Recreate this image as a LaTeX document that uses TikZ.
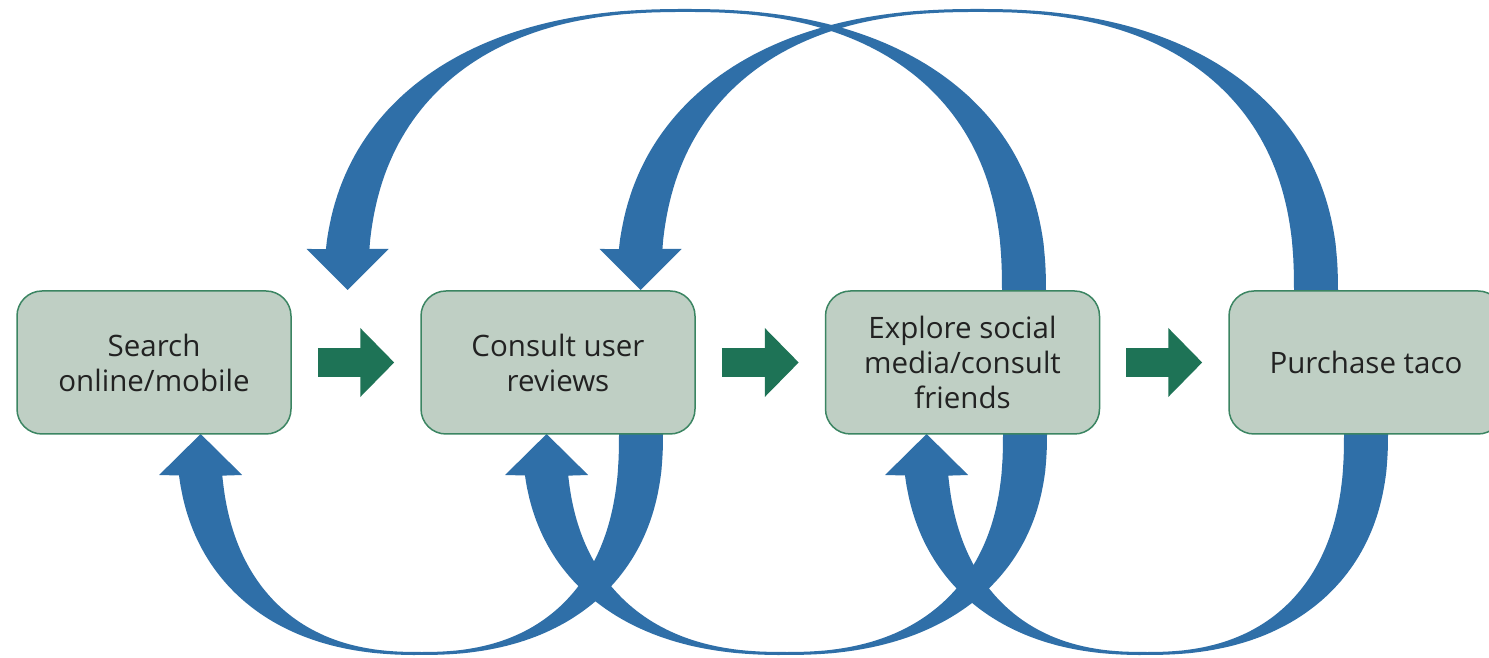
\documentclass[tikz,border=0pt]{standalone}
\usepackage{fontspec}
\setmainfont{Open Sans}
\usetikzlibrary{arrows.meta}
\definecolor{arcblue}{RGB}{47,111,168}
\definecolor{arrowgreen}{RGB}{30,115,86}
\definecolor{boxfill}{RGB}{191,207,196}
\definecolor{boxedge}{RGB}{59,133,98}
\definecolor{textgray}{RGB}{34,34,34}
\begin{document}
\begin{tikzpicture}[x=1pt,y=1pt,
  declare function={
    spx(\t,\e)=sign(cos(\t))*pow(max(abs(cos(\t)),0.00001),\e);
    spy(\t,\e)=sign(sin(\t))*pow(max(abs(sin(\t)),0.00001),\e);
  },
  stepbox/.style={draw=boxedge, line width=1.5pt, fill=boxfill, rounded corners=25pt,
    minimum width=274pt, minimum height=143pt, align=center, inner sep=0pt,
    font=\fontsize{29.5}{35}\selectfont, text=textgray},
  garrow/.style={draw=arrowgreen, line width=29pt,
    -{Triangle[length=34pt,width=67pt]}, shorten <=26pt, shorten >=26pt},
  band/.style={fill=arcblue}]
\useasboundingbox (0,0) rectangle (1489,658);
\fill[white] (0,0) rectangle (1489,658);

% top arcs (tail on the right, head on the left)
\fill[band] plot[domain=0:173.58, samples=120, variable=\t]
    ({685+361*spx(\t,0.8696)}, {367+282*spy(\t,0.8696)})
  -- (306.7,409) -- (347.7,368) -- (388.7,409)
  -- plot[domain=174.09:0, samples=120, variable=\t]
    ({685+317*spx(\t,0.8333)}, {367+279*spy(\t,0.8333)}) -- cycle;
\fill[band] plot[domain=0:173.58, samples=120, variable=\t]
    ({977.5+360.5*spx(\t,0.8696)}, {367+282*spy(\t,0.8696)})
  -- (599.7,409) -- (640.7,368) -- (681.7,409)
  -- plot[domain=174.09:0, samples=120, variable=\t]
    ({977.5+316.5*spx(\t,0.8333)}, {367+279*spy(\t,0.8333)}) -- cycle;

% bottom arcs (tail on the right, head on the left)
\fill[band] plot[domain=0:-171.715, samples=120, variable=\t]
    ({419.9+243.1*spx(\t,0.8696)}, {224+221*spy(\t,0.8696)})
  -- (159.15,183) -- (200.65,224) -- (242.15,183)
  -- plot[domain=-172.262:0, samples=120, variable=\t]
    ({419.9+199.1*spx(\t,0.8333)}, {224+218*spy(\t,0.8333)}) -- cycle;
\fill[band] plot[domain=0:-171.715, samples=120, variable=\t]
    ({784.8+262.2*spx(\t,0.8696)}, {224+221*spy(\t,0.8696)})
  -- (505.1,183) -- (546.6,224) -- (588.1,183)
  -- plot[domain=-172.262:0, samples=120, variable=\t]
    ({784.8+218.2*spx(\t,0.8333)}, {224+218*spy(\t,0.8333)}) -- cycle;
\fill[band] plot[domain=0:-171.715, samples=120, variable=\t]
    ({1145.4+242.6*spx(\t,0.8696)}, {224+221*spy(\t,0.8696)})
  -- (885.1,183) -- (926.6,224) -- (968.1,183)
  -- plot[domain=-172.262:0, samples=120, variable=\t]
    ({1145.4+198.6*spx(\t,0.8333)}, {224+218*spy(\t,0.8333)}) -- cycle;

% boxes
\node[stepbox] (b1) at (154,295.5) {Search\\online/mobile};
\node[stepbox] (b2) at (558,295.5) {Consult user\\reviews};
\node[stepbox] (b3) at (962.5,295.5) {Explore social\\media/consult\\friends};
\node[stepbox] (b4) at (1366,295.5) {Purchase taco};

% green arrows
\draw[garrow] (b1.east) -- (b2.west);
\draw[garrow] (b2.east) -- (b3.west);
\draw[garrow] (b3.east) -- (b4.west);
\end{tikzpicture}
\end{document}
